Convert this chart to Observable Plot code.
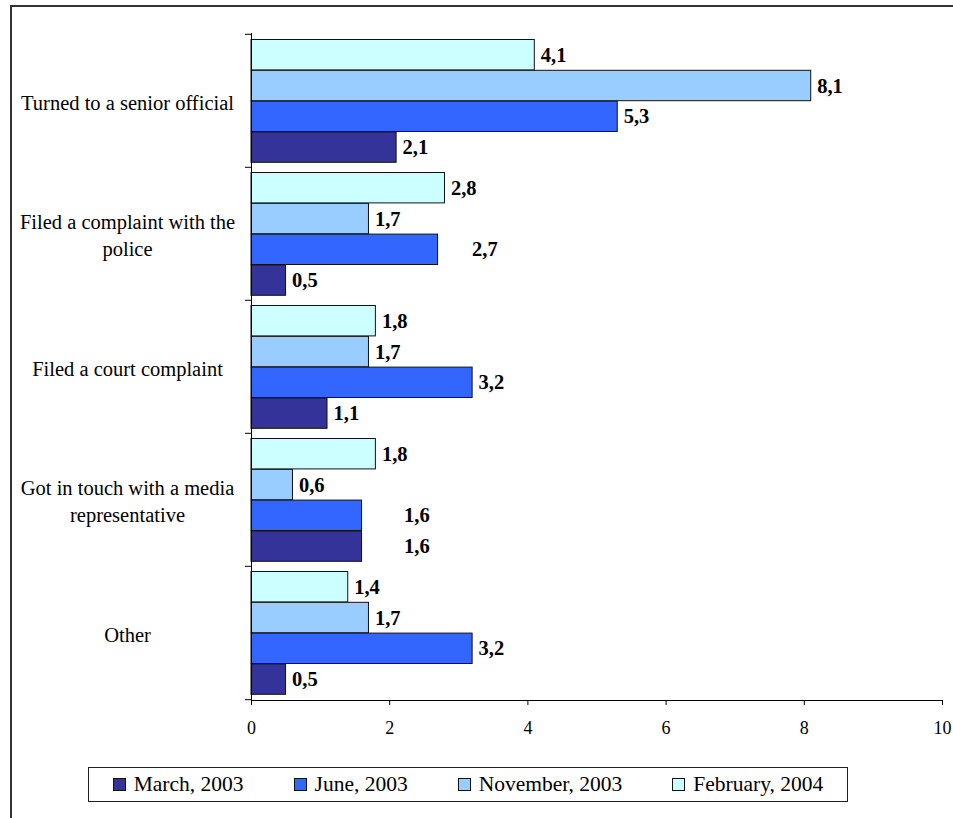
<!DOCTYPE html>
<html>
<head>
<meta charset="utf-8">
<script src="https://cdn.jsdelivr.net/npm/d3@7"></script>
<script src="https://cdn.jsdelivr.net/npm/@observablehq/plot@0.6"></script>
<style>
  html, body { margin: 0; padding: 0; background: #fff; }
  #wrap { position: relative; width: 953px; height: 818px; overflow: hidden; font-family: "Liberation Serif", "Times New Roman", serif; }
  #frame { position: absolute; left: 10px; top: 5px; width: 943px; height: 813px; box-sizing: border-box; border-left: 2px solid #333; border-top: 2px solid #333; }
  #chart { position: absolute; left: 0; top: 0; }
  #legend { position: absolute; left: 88px; top: 767px; width: 760px; height: 35px; box-sizing: border-box; border: 1.5px solid #222; display: flex; align-items: center; justify-content: center; gap: 50px; font-size: 21.5px; color: #000; background: #fff; }
  .item { display: flex; align-items: center; white-space: nowrap; }
  .sw { width: 11px; height: 11px; border: 1px solid #111; margin-right: 8px; }
</style>
</head>
<body>
<div id="wrap">
  <div id="frame"></div>
  <div id="chart"></div>
  <div id="legend"></div>
</div>
<script>
const categories = ["Turned to a senior official", "Filed a complaint with the police", "Filed a court complaint", "Got in touch with a media representative", "Other"];
const categoryLabels = ["Turned to a senior official", "Filed a complaint with the\npolice", "Filed a court complaint", "Got in touch with a media\nrepresentative", "Other"];
const series = ["March, 2003", "June, 2003", "November, 2003", "February, 2004"];
const march2003 = [2.1, 0.5, 1.1, 1.6, 0.5];
const june2003 = [5.3, 2.7, 3.2, 1.6, 3.2];
const november2003 = [8.1, 1.7, 1.7, 0.6, 1.7];
const february2004 = [4.1, 2.8, 1.8, 1.8, 1.4];
const seriesColors = ["#333399", "#3366FF", "#99CCFF", "#CCFFFF"];
const xTicks = [0, 2, 4, 6, 8, 10];

const values = [march2003, june2003, november2003, february2004];
const fmt = v => v.toFixed(1).replace(".", ",");

const W = 953, H = 760;
const mL = 251, mR = 11, mT = 33, mB = 60;
const band = (H - mT - mB) / categories.length;
const topPad = 5.5, bh = 30.8;

// labels that the original chart pushed further right (collision avoidance)
const labelNudge = (cat, s) => {
  if (cat === categories[1] && s === series[1]) return 28;
  if (cat === categories[3] && (s === series[0] || s === series[1])) return 36;
  return 0;
};

const marks = [];
series.forEach((s, k) => {
  const slot = 3 - k;
  const rows = categories.map((c, i) => ({category: c, value: values[k][i], series: s}));
  marks.push(Plot.barX(rows, {
    x: "value", y: "category",
    fill: seriesColors[k], stroke: "#111", strokeWidth: 1,
    insetTop: topPad + slot * bh,
    insetBottom: band - topPad - (slot + 1) * bh
  }));
  const dy = topPad + (slot + 0.5) * bh - band / 2;
  const plain = rows.filter(d => labelNudge(d.category, s) === 0);
  const moved = rows.filter(d => labelNudge(d.category, s) !== 0);
  marks.push(Plot.text(plain, {
    x: "value", y: "category", text: d => fmt(d.value),
    dx: 6, dy, textAnchor: "start", fontWeight: "bold", fontSize: 20.5, fill: "#000"
  }));
  moved.forEach(d => {
    marks.push(Plot.text([d], {
      x: "value", y: "category", text: d => fmt(d.value),
      dx: 6 + labelNudge(d.category, s), dy, textAnchor: "start", fontWeight: "bold", fontSize: 20.5, fill: "#000"
    }));
  });
});

marks.push(Plot.ruleX([0], {stroke: "#000", strokeWidth: 1}));
marks.push(Plot.tickY(categories, {y: d => d, dy: -band / 2, insetLeft: -6, insetRight: W - mL - mR, stroke: "#000"}));
marks.push(Plot.tickY([categories[categories.length - 1]], {y: d => d, dy: band / 2, insetLeft: -6, insetRight: W - mL - mR, stroke: "#000"}));
marks.push(Plot.text(categories, {
  y: d => d, text: (d, i) => categoryLabels[i],
  frameAnchor: "left", dx: -124, textAnchor: "middle",
  fontSize: 20.5, lineHeight: 1.3, fill: "#000"
}));

const plot = Plot.plot({
  width: W, height: H,
  marginLeft: mL, marginRight: mR, marginTop: mT, marginBottom: mB,
  style: {fontFamily: "Liberation Serif", fontSize: "18px", background: "transparent", color: "#000"},
  x: {domain: [0, 10], ticks: xTicks, tickSize: 5, tickPadding: 16, line: true, label: null, tickFormat: d => String(d)},
  y: {domain: categories, padding: 0, axis: null},
  marks
});
document.getElementById("chart").appendChild(plot);

const legend = document.getElementById("legend");
series.forEach((s, k) => {
  const item = document.createElement("div");
  item.className = "item";
  const sw = document.createElement("div");
  sw.className = "sw";
  sw.style.background = seriesColors[k];
  const t = document.createElement("span");
  t.textContent = s;
  item.appendChild(sw);
  item.appendChild(t);
  legend.appendChild(item);
});
</script>
</body>
</html>
